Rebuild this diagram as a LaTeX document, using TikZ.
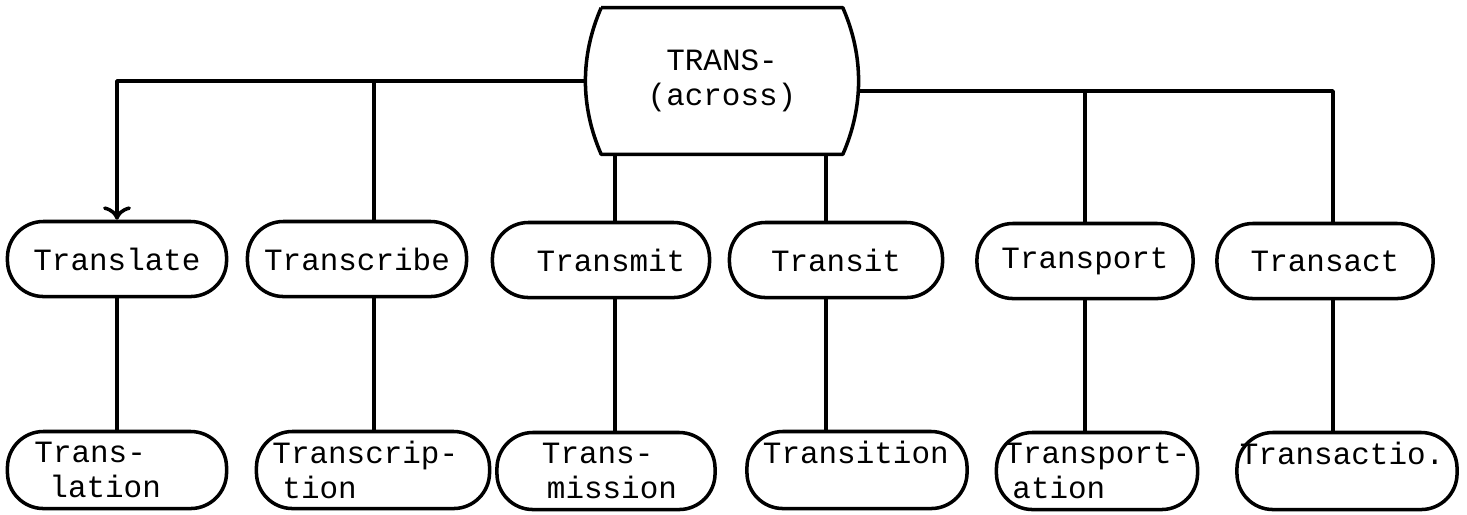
\documentclass[tikz,border=0pt]{standalone}
\usepackage{fontspec}
\setmonofont{Liberation Mono}
\usetikzlibrary{arrows, arrows.meta}
\usetikzlibrary{positioning}
\usepackage{xcolor}

\tikzset{
	word/.style={draw, line width=1pt, rounded corners=0.36cm, minimum height=0.75cm, inner sep=2pt, font=\ttfamily\fontsize{8.8}{10}\selectfont},
	wordtwo/.style={word, align=left, minimum height=0.77cm},
}

\begin{document}
\begin{tikzpicture}[x=0.01cm, y=-0.01cm, line width=1pt, line join=round]
	\useasboundingbox (0,0) rectangle (1467,514);
	
	%root word
	\node[minimum width=2.7cm, minimum height=1.43cm, align=center, font=\ttfamily\fontsize{8.8}{10}\selectfont] (trans) at (722,81) {TRANS-\\(across)};
	\draw ([xshift=0.16cm]trans.north west) -- ([xshift=-0.16cm]trans.north east)
		.. controls ([xshift=0.05cm, yshift=-0.48cm]trans.north east) and ([xshift=0.05cm, yshift=0.48cm]trans.south east) .. ([xshift=-0.16cm]trans.south east)
		-- ([xshift=0.16cm]trans.south west)
		.. controls ([xshift=-0.05cm, yshift=0.48cm]trans.south west) and ([xshift=-0.05cm, yshift=-0.48cm]trans.north west) .. ([xshift=0.16cm]trans.north west);
	\coordinate (rootright) at ([yshift=-0.1cm]trans.east);
	
	%verbs
	\node[word, minimum width=2.19cm] (translate) at (117,259) {Translate};
	\node[word, minimum width=2.19cm] (transcribe) at (357,259) {Transcribe};
	\node[word, minimum width=2.17cm] (transmit) at (601,260) {\hspace*{0.2cm}Transmit};
	\node[word, minimum width=2.13cm] (transit) at (836,260) {Transit};
	\node[word, minimum width=2.16cm] (transport) at (1085,261) {Transport};
	\node[word, minimum width=2.16cm] (transact) at (1325,261) {Transact};
	
	%nouns
	\node[wordtwo, inner xsep=0.27cm, text width=1.65cm] (translation) at (117,470) {Trans-\\\hspace*{0.15cm}lation};
	\node[wordtwo, inner xsep=0.16cm, text width=2.01cm] (transcription) at (373,470) {Transcrip-\\\hspace*{0.1cm}tion};
	\node[wordtwo, inner xsep=0.45cm, text width=1.28cm] (transmission) at (606,471) {Trans-\\\hspace*{0.05cm}mission};
	\node[wordtwo, inner xsep=0.16cm, text width=1.88cm] (transition) at (857,470) {Transition\\\mbox{}};
	\node[wordtwo, inner xsep=0.08cm, text width=1.85cm] (transportation) at (1097,471) {Transport-\\\hspace*{0.08cm}ation};
	\node[wordtwo, inner xsep=0.03cm, text width=2.14cm] (transaction) at (1347,471) {Transactio.\\\mbox{}};
	
	%lines from the root
	\draw[->] (trans.west) -| (translate.north);
	\draw ([xshift=0.17cm]transcribe.north |- trans.west) -- ([xshift=0.17cm]transcribe.north);
	\draw ([xshift=0.14cm]transmit.north |- trans.south) -- ([xshift=0.14cm]transmit.north);
	\draw ([xshift=-0.1cm]transit.north |- trans.south) -- ([xshift=-0.1cm]transit.north);
	\draw (rootright) -| ([xshift=0.08cm]transact.north);
	\draw (transport.north |- rootright) -- (transport.north);
	
	%lines from verb to noun
	\draw (translate.south) -- (translate.south |- translation.north);
	\draw ([xshift=0.17cm]transcribe.south) -- ([xshift=0.17cm]transcribe.south |- transcription.north);
	\draw ([xshift=0.14cm]transmit.south) -- ([xshift=0.14cm]transmit.south |- transmission.north);
	\draw ([xshift=-0.1cm]transit.south) -- ([xshift=-0.1cm]transit.south |- transition.north);
	\draw (transport.south) -- (transport.south |- transportation.north);
	\draw ([xshift=0.08cm]transact.south) -- ([xshift=0.08cm]transact.south |- transaction.north);
	
\end{tikzpicture}
\end{document}
